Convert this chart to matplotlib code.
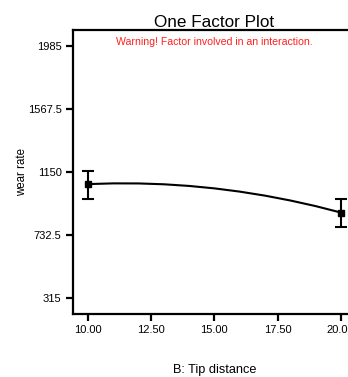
import matplotlib
matplotlib.use("Agg")
import matplotlib.pyplot as plt

# data
x_pts = [10.0, 20.0]
y_pts = [1070.6, 882.7]
err_lo = [97.6, 94.7]
err_hi = [88.0, 88.3]

x_curve = [10, 11, 12, 13, 14, 15, 16, 17, 18, 19, 20]
y_curve = [1070.6, 1075.4, 1075.0, 1069.4, 1058.5, 1042.4, 1021.0, 994.4, 962.4, 925.3, 882.7]

x_ticks = [10.0, 12.5, 15.0, 17.5, 20.0]
x_ticklabels = ["10.00", "12.50", "15.00", "17.50", "20.00"]
y_ticks = [315, 732.5, 1150, 1567.5, 1985]
y_ticklabels = ["315", "732.5", "1150", "1567.5", "1985"]

plt.rcParams['font.family'] = ['Liberation Sans', 'DejaVu Sans']

fig = plt.figure(figsize=(3.48, 3.77), dpi=100)
ax = fig.add_axes([0.209, 0.167, 0.814, 0.753])

ax.plot(x_curve, y_curve, color='black', lw=1.5)
ax.errorbar(x_pts, y_pts, yerr=[err_lo, err_hi], fmt='s', color='black',
            ms=5, capsize=4.5, elinewidth=1.5, capthick=1.5)

ax.set_xlim(9.395, 20.605)
ax.set_ylim(211, 2089)
ax.set_xticks(x_ticks)
ax.set_xticklabels(x_ticklabels)
ax.set_yticks(y_ticks)
ax.set_yticklabels(y_ticklabels)
ax.tick_params(direction='out', length=5, width=1.6, labelsize=8, pad=3)

for s in ax.spines.values():
    s.set_linewidth(1.6)

ax.set_title("One Factor Plot", fontsize=12.3, pad=2)
ax.text(0.5, 0.975, "Warning! Factor involved in an interaction.", color='#ff2020',
        fontsize=7.6, ha='center', va='top', transform=ax.transAxes)
ax.set_xlabel("B: Tip distance", fontsize=9.2, labelpad=21)
ax.set_ylabel("wear rate", fontsize=8.3, labelpad=0)

fig.savefig("out.png", dpi=100)
